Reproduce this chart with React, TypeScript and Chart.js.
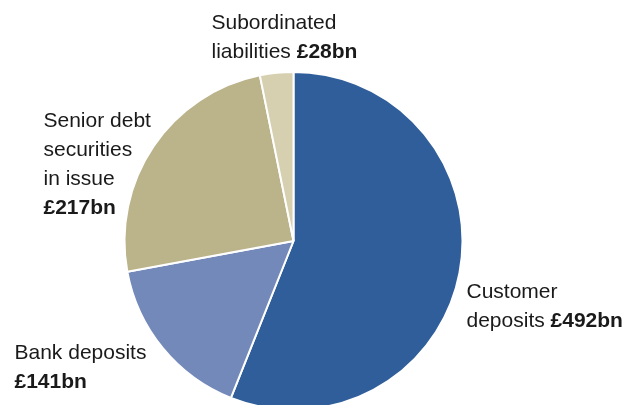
import React, { useEffect, useRef } from "react";
import { Chart, registerables } from "chart.js";

Chart.register(...registerables);

const categories = ["Customer deposits", "Bank deposits", "Senior debt securities in issue", "Subordinated liabilities"];
const values = [492, 141, 217, 28];
const valueLabels = ["£492bn", "£141bn", "£217bn", "£28bn"];
const colors = ["#2f5e9b", "#7389ba", "#bbb38a", "#d6cfb0"];

// label lines: each line is [normal text, bold text]
const labelLines: [string, string][][] = [
  [["Customer", ""], ["deposits ", valueLabels[0]]],
  [["Bank deposits", ""], ["", valueLabels[1]]],
  [["Senior debt", ""], ["securities", ""], ["in issue", ""], ["", valueLabels[2]]],
  [["Subordinated", ""], ["liabilities ", valueLabels[3]]],
];

const FONT = "'Liberation Sans', Arial, Helvetica, sans-serif";
const FS = 21;
const LH = 29;

const labelPlugin = {
  id: "pieLabels",
  afterDraw(chart: any) {
    const meta = chart.getDatasetMeta(0);
    const arc = meta.data[0];
    if (!arc) return;
    const cx = arc.x;
    const cy = arc.y;
    const r = arc.outerRadius;
    // anchors relative to pie centre / radius
    const anchors = [
      { x: cx + r + 4, y: cy + 57 },
      { x: cx - r - 110, y: cy + 118 },
      { x: cx - r - 81, y: cy - 114 },
      { x: cx - 82, y: cy - 212 },
    ];
    const ctx = chart.ctx;
    ctx.save();
    ctx.fillStyle = "#1a1a1a";
    ctx.textBaseline = "alphabetic";
    ctx.textAlign = "left";
    labelLines.forEach((lines, i) => {
      const a = anchors[i];
      lines.forEach((ln, j) => {
        const y = a.y + j * LH;
        let x = a.x;
        if (ln[0]) {
          ctx.font = `normal ${FS}px ${FONT}`;
          ctx.fillText(ln[0], x, y);
          x += ctx.measureText(ln[0]).width;
        }
        if (ln[1]) {
          ctx.font = `bold ${FS}px ${FONT}`;
          ctx.fillText(ln[1], x, y);
        }
      });
    });
    ctx.restore();
  },
};

export default function App() {
  const ref = useRef<HTMLCanvasElement>(null);
  useEffect(() => {
    if (!ref.current) return;
    const chart = new Chart(ref.current, {
      type: "pie",
      data: {
        labels: categories,
        datasets: [
          {
            data: values,
            backgroundColor: colors,
            borderColor: "#ffffff",
            borderWidth: 2,
          },
        ],
      },
      options: {
        responsive: false,
        maintainAspectRatio: false,
        animation: false,
        layout: { padding: { left: 123.5, right: 161.5, top: 71, bottom: 9 } },
        plugins: {
          legend: { display: false },
          tooltip: { enabled: false },
        },
      },
      plugins: [labelPlugin],
    });
    return () => chart.destroy();
  }, []);
  return (
    <div style={{ position: "fixed", left: 0, top: 0, width: 625, height: 405, overflow: "hidden", background: "#fff" }}>
      <canvas ref={ref} width={625} height={420} style={{ width: 625, height: 420, display: "block" }} />
    </div>
  );
}
